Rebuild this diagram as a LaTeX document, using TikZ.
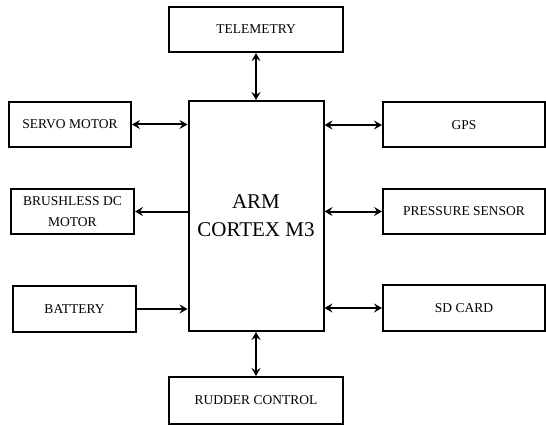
\documentclass[tikz,border=0pt]{standalone}
\usepackage{fontspec}
\setmainfont{Liberation Serif}
\usepackage{tikz}
\usetikzlibrary{arrows.meta}

\begin{document}
\begin{tikzpicture}[x=1pt,y=-1pt,>={Stealth[length=8pt,width=9pt,inset=3pt]},
   block/.style={draw,line width=2pt,minimum height=45pt,inner sep=0pt,align=center,font=\fontsize{13.5}{21}\selectfont},
   link/.style={draw,line width=2pt}]
   \useasboundingbox (0,0) rectangle (546,425);
   \draw (256,29.5) node[block,minimum width=174pt] (telemetry) {TELEMETRY};
   \draw (70,124.5) node[block,minimum width=122pt] (servo) {SERVO MOTOR};
   \draw (72.5,211.5) node[block,minimum width=123pt] (brushless) {BRUSHLESS DC\\MOTOR};
   \draw (74.5,309) node[block,minimum width=123pt,minimum height=46pt] (battery) {BATTERY};
   \draw (256,216) node[block,minimum width=135pt,minimum height=230pt,font=\fontsize{21}{28}\selectfont] (arm) {ARM\\CORTEX M3};
   \draw (464,125) node[block,minimum width=162pt] (gps) {GPS};
   \draw (464,211.5) node[block,minimum width=162pt] (pressure) {PRESSURE SENSOR};
   \draw (464,308) node[block,minimum width=162pt,minimum height=46pt] (sdcard) {SD CARD};
   \draw (256,400.5) node[block,minimum width=174pt,minimum height=47pt] (rudder) {RUDDER CONTROL};

     \draw[link,<->] (telemetry.south) -- (arm.north);
     \draw[link,<->] (servo.east) -- (servo.east -| arm.west);
     \draw[link,->] (arm.west |- brushless.east) -- (brushless.east);
     \draw[link,->] (battery.east) -- (battery.east -| arm.west);
     \draw[link,<->] (arm.east |- gps.west) -- (gps.west);
     \draw[link,<->] (arm.east |- pressure.west) -- (pressure.west);
     \draw[link,<->] (arm.east |- sdcard.west) -- (sdcard.west);
     \draw[link,<->] (arm.south) -- (rudder.north);

\end{tikzpicture}
\end{document}
